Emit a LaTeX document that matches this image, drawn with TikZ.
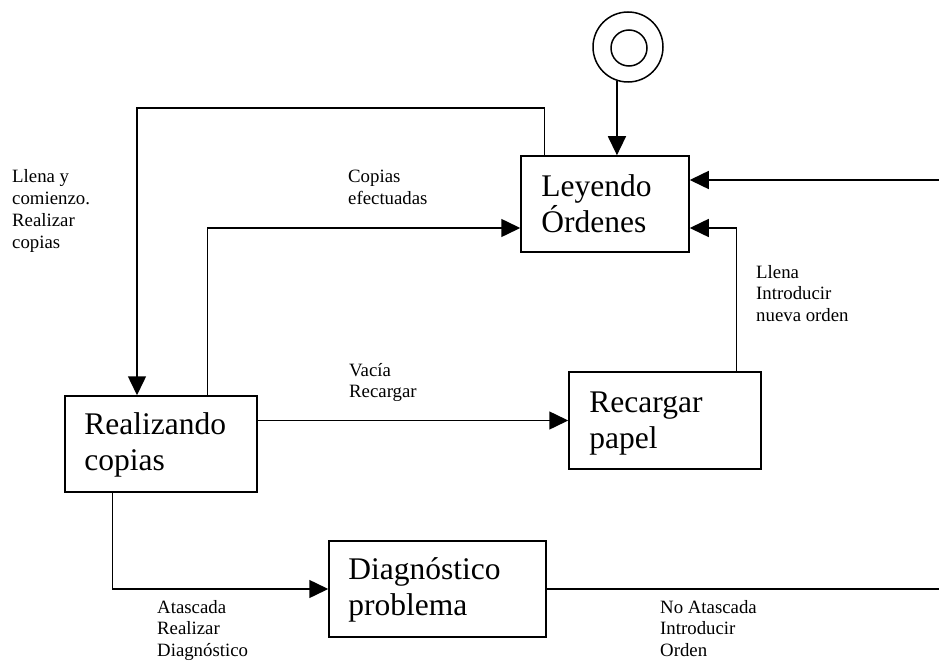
\documentclass[tikz,border=0pt]{standalone}
\usepackage{fontspec}
\setmainfont{Liberation Serif}
\usetikzlibrary{arrows.meta}

\tikzset{
  state/.style={draw, line width=1.5bp, rectangle, inner sep=0pt},
  statetext/.style={anchor=base west, inner sep=0pt, font=\fontsize{31.5bp}{36bp}\selectfont},
  cond/.style={anchor=base west, inner sep=0pt, font=\fontsize{18.8bp}{21.7bp}\selectfont},
  link/.style={line width=1.5bp},
  arr/.style={link, -{Triangle[length=19bp, width=18bp]}},
}

\begin{document}
\begin{tikzpicture}[x=1bp, y=-1bp]
  \useasboundingbox (0,0) rectangle (939,661);

  % initial state
  \node[draw, circle, line width=1.5bp, minimum size=70bp, inner sep=0pt] (ini) at (628,47) {};
  \node[draw, circle, line width=1.5bp, minimum size=36bp, inner sep=0pt] (iniin) at (629,48) {};

  % states
  \node[state, minimum width=168bp, minimum height=96bp] (ley) at (605,204) {};
  \node[state, minimum width=192bp, minimum height=97bp] (rec) at (665,420.5) {};
  \node[state, minimum width=192bp, minimum height=96bp] (real) at (161,444) {};
  \node[state, minimum width=217bp, minimum height=96bp] (diag) at (437.5,589) {};

  \node[statetext] (leyt) at ([xshift=21bp, yshift=-41bp]ley.north west)
    {\parbox[t]{150bp}{Leyendo\\Órdenes}};
  \node[statetext] (rect) at ([xshift=21bp, yshift=-41bp]rec.north west)
    {\parbox[t]{170bp}{Recargar\\papel}};
  \node[statetext] (realt) at ([xshift=20bp, yshift=-39bp]real.north west)
    {\parbox[t]{170bp}{Realizando\\copias}};
  \node[statetext] (diagt) at ([xshift=20bp, yshift=-39bp]diag.north west)
    {\parbox[t]{190bp}{Diagnóstico\\problema}};

  % loose ends at the right border
  \coordinate (r1) at (939,180);
  \coordinate (r2) at (939,589);
  \coordinate (k1) at (137,108);

  % transitions
  \draw[arr] (ini.252) -- (ini.252 |- ley.north);
  \draw[arr] ([xshift=24bp]ley.north west) |- (k1) -- (k1 |- real.north);
  \draw[arr] ([xshift=143bp]real.north west) |- ([yshift=-24bp]ley.west);
  \draw[arr] (real.east |- rec.west) -- (rec.west);
  \draw[arr] ([xshift=168bp]rec.north west) |- ([yshift=-24bp]ley.east);
  \draw[arr] (r1) -- (r1 -| ley.east);
  \draw[arr] ([xshift=48bp]real.south west) |- (diag.west);
  \draw[link] (diag.east) -- (r2);

  % transition conditions
  \node[cond] (c1) at (12,183) {\parbox[t]{120bp}{Llena y\\comienzo.\\Realizar\\copias}};
  \node[cond] (c2) at (348,183) {\parbox[t]{120bp}{Copias\\efectuadas}};
  \node[cond] (c3) at (756,278) {\parbox[t]{150bp}{Llena\\Introducir\\nueva orden}};
  \node[cond] (c4) at (349,376) {\parbox[t]{120bp}{Vacía\\Recargar}};
  \node[cond] (c5) at (157,613) {\parbox[t]{140bp}{Atascada\\Realizar\\Diagnóstico}};
  \node[cond] (c6) at (660,613) {\parbox[t]{140bp}{No Atascada\\Introducir\\Orden}};
\end{tikzpicture}
\end{document}
